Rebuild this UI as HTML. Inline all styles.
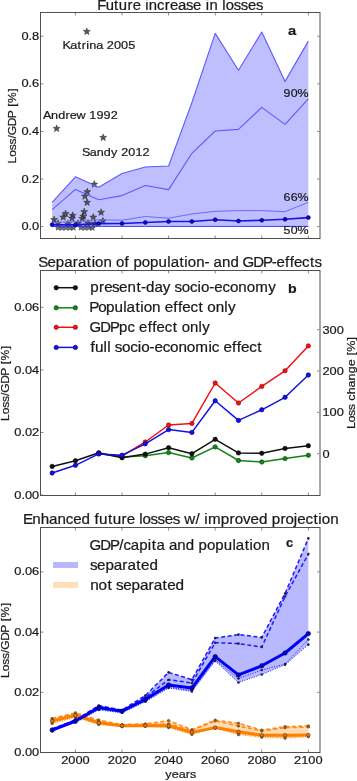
<!DOCTYPE html>
<html><head><meta charset="utf-8"><style>
html,body{margin:0;padding:0;background:#fff;width:357px;height:781px;overflow:hidden;}
svg{display:block;font-family:"Liberation Sans",sans-serif;filter:blur(0.35px);}
</style></head><body>
<svg width="357" height="781" viewBox="0 0 357 781" font-family="Liberation Sans, sans-serif">
<rect width="357" height="781" fill="#fff"/>
<polygon points="52.15,202.30 75.44,176.80 98.73,187.30 122.02,173.50 145.31,167.00 168.60,166.00 191.90,102.50 215.19,33.40 238.48,70.20 261.77,32.10 285.06,81.40 308.35,41.10 308.35,226.40 285.06,226.40 261.77,226.40 238.48,226.40 215.19,226.40 191.90,226.40 168.60,226.40 145.31,226.40 122.02,226.40 98.73,226.40 75.44,226.40 52.15,226.40" fill="#bfbfff" stroke="none" />
<polygon points="58.00,224.40 58.79,226.51 61.04,226.61 59.28,228.02 59.88,230.19 58.00,228.94 56.12,230.19 56.72,228.02 54.96,226.61 57.21,226.51" fill="#555555" fill-opacity="0.85" stroke="#262626" stroke-width="0.5" stroke-opacity="0.85"/>
<polygon points="62.00,224.70 62.79,226.81 65.04,226.91 63.28,228.32 63.88,230.49 62.00,229.24 60.12,230.49 60.72,228.32 58.96,226.91 61.21,226.81" fill="#555555" fill-opacity="0.85" stroke="#262626" stroke-width="0.5" stroke-opacity="0.85"/>
<polygon points="66.00,224.40 66.79,226.51 69.04,226.61 67.28,228.02 67.88,230.19 66.00,228.94 64.12,230.19 64.72,228.02 62.96,226.61 65.21,226.51" fill="#555555" fill-opacity="0.85" stroke="#262626" stroke-width="0.5" stroke-opacity="0.85"/>
<polygon points="70.00,224.70 70.79,226.81 73.04,226.91 71.28,228.32 71.88,230.49 70.00,229.24 68.12,230.49 68.72,228.32 66.96,226.91 69.21,226.81" fill="#555555" fill-opacity="0.85" stroke="#262626" stroke-width="0.5" stroke-opacity="0.85"/>
<polygon points="73.50,224.40 74.29,226.51 76.54,226.61 74.78,228.02 75.38,230.19 73.50,228.94 71.62,230.19 72.22,228.02 70.46,226.61 72.71,226.51" fill="#555555" fill-opacity="0.85" stroke="#262626" stroke-width="0.5" stroke-opacity="0.85"/>
<polygon points="81.00,224.40 81.79,226.51 84.04,226.61 82.28,228.02 82.88,230.19 81.00,228.94 79.12,230.19 79.72,228.02 77.96,226.61 80.21,226.51" fill="#555555" fill-opacity="0.85" stroke="#262626" stroke-width="0.5" stroke-opacity="0.85"/>
<polygon points="85.00,224.70 85.79,226.81 88.04,226.91 86.28,228.32 86.88,230.49 85.00,229.24 83.12,230.49 83.72,228.32 81.96,226.91 84.21,226.81" fill="#555555" fill-opacity="0.85" stroke="#262626" stroke-width="0.5" stroke-opacity="0.85"/>
<polygon points="89.00,224.40 89.79,226.51 92.04,226.61 90.28,228.02 90.88,230.19 89.00,228.94 87.12,230.19 87.72,228.02 85.96,226.61 88.21,226.51" fill="#555555" fill-opacity="0.85" stroke="#262626" stroke-width="0.5" stroke-opacity="0.85"/>
<polygon points="92.50,224.70 93.29,226.81 95.54,226.91 93.78,228.32 94.38,230.49 92.50,229.24 90.62,230.49 91.22,228.32 89.46,226.91 91.71,226.81" fill="#555555" fill-opacity="0.85" stroke="#262626" stroke-width="0.5" stroke-opacity="0.85"/>
<polygon points="86.80,27.90 87.71,30.34 90.32,30.46 88.28,32.08 88.97,34.59 86.80,33.15 84.63,34.59 85.32,32.08 83.28,30.46 85.89,30.34" fill="#4a4a4a" fill-opacity="0.92" stroke="#262626" stroke-width="0.5" stroke-opacity="0.92"/>
<polygon points="56.60,124.90 57.51,127.34 60.12,127.46 58.08,129.08 58.77,131.59 56.60,130.15 54.43,131.59 55.12,129.08 53.08,127.46 55.69,127.34" fill="#4a4a4a" fill-opacity="0.92" stroke="#262626" stroke-width="0.5" stroke-opacity="0.92"/>
<polygon points="103.20,133.90 104.11,136.34 106.72,136.46 104.68,138.08 105.37,140.59 103.20,139.15 101.03,140.59 101.72,138.08 99.68,136.46 102.29,136.34" fill="#4a4a4a" fill-opacity="0.92" stroke="#262626" stroke-width="0.5" stroke-opacity="0.92"/>
<polygon points="94.30,180.60 95.21,183.04 97.82,183.16 95.78,184.78 96.47,187.29 94.30,185.85 92.13,187.29 92.82,184.78 90.78,183.16 93.39,183.04" fill="#444444" fill-opacity="0.9" stroke="#262626" stroke-width="0.5" stroke-opacity="0.9"/>
<polygon points="87.30,188.10 88.21,190.54 90.82,190.66 88.78,192.28 89.47,194.79 87.30,193.35 85.13,194.79 85.82,192.28 83.78,190.66 86.39,190.54" fill="#444444" fill-opacity="0.9" stroke="#262626" stroke-width="0.5" stroke-opacity="0.9"/>
<polygon points="84.90,192.60 85.81,195.04 88.42,195.16 86.38,196.78 87.07,199.29 84.90,197.85 82.73,199.29 83.42,196.78 81.38,195.16 83.99,195.04" fill="#444444" fill-opacity="0.9" stroke="#262626" stroke-width="0.5" stroke-opacity="0.9"/>
<polygon points="87.10,198.80 88.01,201.24 90.62,201.36 88.58,202.98 89.27,205.49 87.10,204.05 84.93,205.49 85.62,202.98 83.58,201.36 86.19,201.24" fill="#444444" fill-opacity="0.9" stroke="#262626" stroke-width="0.5" stroke-opacity="0.9"/>
<polygon points="84.20,208.10 85.11,210.54 87.72,210.66 85.68,212.28 86.37,214.79 84.20,213.35 82.03,214.79 82.72,212.28 80.68,210.66 83.29,210.54" fill="#444444" fill-opacity="0.9" stroke="#262626" stroke-width="0.5" stroke-opacity="0.9"/>
<polygon points="83.30,212.70 84.21,215.14 86.82,215.26 84.78,216.88 85.47,219.39 83.30,217.95 81.13,219.39 81.82,216.88 79.78,215.26 82.39,215.14" fill="#444444" fill-opacity="0.9" stroke="#262626" stroke-width="0.5" stroke-opacity="0.9"/>
<polygon points="82.30,214.90 83.21,217.34 85.82,217.46 83.78,219.08 84.47,221.59 82.30,220.15 80.13,221.59 80.82,219.08 78.78,217.46 81.39,217.34" fill="#444444" fill-opacity="0.9" stroke="#262626" stroke-width="0.5" stroke-opacity="0.9"/>
<polygon points="93.30,213.60 94.21,216.04 96.82,216.16 94.78,217.78 95.47,220.29 93.30,218.85 91.13,220.29 91.82,217.78 89.78,216.16 92.39,216.04" fill="#444444" fill-opacity="0.9" stroke="#262626" stroke-width="0.5" stroke-opacity="0.9"/>
<polygon points="101.10,208.70 102.01,211.14 104.62,211.26 102.58,212.88 103.27,215.39 101.10,213.95 98.93,215.39 99.62,212.88 97.58,211.26 100.19,211.14" fill="#444444" fill-opacity="0.9" stroke="#262626" stroke-width="0.5" stroke-opacity="0.9"/>
<polygon points="102.90,217.30 103.81,219.74 106.42,219.86 104.38,221.48 105.07,223.99 102.90,222.55 100.73,223.99 101.42,221.48 99.38,219.86 101.99,219.74" fill="#444444" fill-opacity="0.9" stroke="#262626" stroke-width="0.5" stroke-opacity="0.9"/>
<polygon points="54.10,216.00 55.01,218.44 57.62,218.56 55.58,220.18 56.27,222.69 54.10,221.25 51.93,222.69 52.62,220.18 50.58,218.56 53.19,218.44" fill="#444444" fill-opacity="0.9" stroke="#262626" stroke-width="0.5" stroke-opacity="0.9"/>
<polygon points="65.60,210.00 66.51,212.44 69.12,212.56 67.08,214.18 67.77,216.69 65.60,215.25 63.43,216.69 64.12,214.18 62.08,212.56 64.69,212.44" fill="#444444" fill-opacity="0.9" stroke="#262626" stroke-width="0.5" stroke-opacity="0.9"/>
<polygon points="63.20,213.60 64.11,216.04 66.72,216.16 64.68,217.78 65.37,220.29 63.20,218.85 61.03,220.29 61.72,217.78 59.68,216.16 62.29,216.04" fill="#444444" fill-opacity="0.9" stroke="#262626" stroke-width="0.5" stroke-opacity="0.9"/>
<polygon points="72.70,211.80 73.61,214.24 76.22,214.36 74.18,215.98 74.87,218.49 72.70,217.05 70.53,218.49 71.22,215.98 69.18,214.36 71.79,214.24" fill="#444444" fill-opacity="0.9" stroke="#262626" stroke-width="0.5" stroke-opacity="0.9"/>
<polygon points="72.00,214.50 72.91,216.94 75.52,217.06 73.48,218.68 74.17,221.19 72.00,219.75 69.83,221.19 70.52,218.68 68.48,217.06 71.09,216.94" fill="#444444" fill-opacity="0.9" stroke="#262626" stroke-width="0.5" stroke-opacity="0.9"/>
<polygon points="58.00,219.80 58.91,222.24 61.52,222.36 59.48,223.98 60.17,226.49 58.00,225.05 55.83,226.49 56.52,223.98 54.48,222.36 57.09,222.24" fill="#444444" fill-opacity="0.9" stroke="#262626" stroke-width="0.5" stroke-opacity="0.9"/>
<polygon points="68.00,220.10 68.91,222.54 71.52,222.66 69.48,224.28 70.17,226.79 68.00,225.35 65.83,226.79 66.52,224.28 64.48,222.66 67.09,222.54" fill="#444444" fill-opacity="0.9" stroke="#262626" stroke-width="0.5" stroke-opacity="0.9"/>
<polygon points="78.00,219.80 78.91,222.24 81.52,222.36 79.48,223.98 80.17,226.49 78.00,225.05 75.83,226.49 76.52,223.98 74.48,222.36 77.09,222.24" fill="#444444" fill-opacity="0.9" stroke="#262626" stroke-width="0.5" stroke-opacity="0.9"/>
<polygon points="88.00,219.50 88.91,221.94 91.52,222.06 89.48,223.68 90.17,226.19 88.00,224.75 85.83,226.19 86.52,223.68 84.48,222.06 87.09,221.94" fill="#444444" fill-opacity="0.9" stroke="#262626" stroke-width="0.5" stroke-opacity="0.9"/>
<polygon points="95.00,219.80 95.91,222.24 98.52,222.36 96.48,223.98 97.17,226.49 95.00,225.05 92.83,226.49 93.52,223.98 91.48,222.36 94.09,222.24" fill="#444444" fill-opacity="0.9" stroke="#262626" stroke-width="0.5" stroke-opacity="0.9"/>
<polyline points="52.15,202.30 75.44,176.80 98.73,187.30 122.02,173.50 145.31,167.00 168.60,166.00 191.90,102.50 215.19,33.40 238.48,70.20 261.77,32.10 285.06,81.40 308.35,41.10" fill="none" stroke="#5b5bff" stroke-width="1.1" stroke-linejoin="round" />
<polyline points="52.15,209.60 75.44,189.40 98.73,199.70 122.02,195.60 145.31,185.50 168.60,189.60 191.90,153.30 215.19,131.00 238.48,129.40 261.77,107.40 285.06,124.40 308.35,98.90" fill="none" stroke="#5b5bff" stroke-width="1.1" stroke-linejoin="round" />
<polyline points="52.15,222.60 75.44,221.60 98.73,219.80 122.02,220.20 145.31,216.50 168.60,218.20 191.90,214.00 215.19,211.30 238.48,210.60 261.77,210.60 285.06,211.70 308.35,202.30" fill="none" stroke="#6b6bff" stroke-width="1.0" stroke-linejoin="round" />
<polyline points="52.15,226.40 75.44,226.40 98.73,226.40 122.02,226.40 145.31,226.40 168.60,226.40 191.90,226.40 215.19,226.40 238.48,226.40 261.77,226.40 285.06,226.40 308.35,226.40" fill="none" stroke="#3a3aff" stroke-width="1.0" stroke-linejoin="round" />
<polyline points="52.15,224.70 75.44,224.90 98.73,223.60 122.02,223.50 145.31,222.50 168.60,221.50 191.90,221.50 215.19,219.70 238.48,221.00 261.77,220.30 285.06,219.30 308.35,217.60" fill="none" stroke="#1414e6" stroke-width="1.6" stroke-linejoin="round" />
<circle cx="52.15" cy="224.70" r="2.0" fill="#0a0ad0" stroke="#000080" stroke-width="0.6"/>
<circle cx="75.44" cy="224.90" r="2.0" fill="#0a0ad0" stroke="#000080" stroke-width="0.6"/>
<circle cx="98.73" cy="223.60" r="2.0" fill="#0a0ad0" stroke="#000080" stroke-width="0.6"/>
<circle cx="122.02" cy="223.50" r="2.0" fill="#0a0ad0" stroke="#000080" stroke-width="0.6"/>
<circle cx="145.31" cy="222.50" r="2.0" fill="#0a0ad0" stroke="#000080" stroke-width="0.6"/>
<circle cx="168.60" cy="221.50" r="2.0" fill="#0a0ad0" stroke="#000080" stroke-width="0.6"/>
<circle cx="191.90" cy="221.50" r="2.0" fill="#0a0ad0" stroke="#000080" stroke-width="0.6"/>
<circle cx="215.19" cy="219.70" r="2.0" fill="#0a0ad0" stroke="#000080" stroke-width="0.6"/>
<circle cx="238.48" cy="221.00" r="2.0" fill="#0a0ad0" stroke="#000080" stroke-width="0.6"/>
<circle cx="261.77" cy="220.30" r="2.0" fill="#0a0ad0" stroke="#000080" stroke-width="0.6"/>
<circle cx="285.06" cy="219.30" r="2.0" fill="#0a0ad0" stroke="#000080" stroke-width="0.6"/>
<circle cx="308.35" cy="217.60" r="2.0" fill="#0a0ad0" stroke="#000080" stroke-width="0.6"/>
<text x="-0.53 6.72 13.41 17.26 21.50 24.27 30.75 37.24 40.55 47.17 53.79 60.41" y="0" font-size="11.82" fill="#1a1a1a" stroke="#1a1a1a" stroke-width="0.22" transform="translate(63.10 48.70) scale(1.0767 1)">Katrina 2005</text>
<text x="-0.35 7.21 13.87 20.67 24.74 31.04 39.62 42.98 49.66 56.33 63.01" y="0" font-size="11.82" fill="#1a1a1a" stroke="#1a1a1a" stroke-width="0.22" transform="translate(43.40 119.20) scale(1.0677 1)">Andrew 1992</text>
<text x="-0.59 6.66 13.24 19.94 26.75 32.87 36.26 42.98 49.70 56.42" y="0" font-size="11.82" fill="#1a1a1a" stroke="#1a1a1a" stroke-width="0.22" transform="translate(82.70 155.50) scale(1.0604 1)">Sandy 2012</text>
<text x="-23.55 -16.78 -10.31" y="0" font-size="11.82" fill="#1a1a1a" stroke="#1a1a1a" stroke-width="0.22" transform="translate(308.40 97.10) scale(1.0527 1)">90%</text>
<text x="-23.55 -16.78 -10.31" y="0" font-size="11.82" fill="#1a1a1a" stroke="#1a1a1a" stroke-width="0.22" transform="translate(308.30 200.50) scale(1.0527 1)">66%</text>
<text x="-23.55 -16.78 -10.31" y="0" font-size="11.82" fill="#1a1a1a" stroke="#1a1a1a" stroke-width="0.22" transform="translate(308.30 233.90) scale(1.0527 1)">50%</text>
<text x="-3.55" y="0" font-size="12.77" fill="#1a1a1a" stroke="#1a1a1a" stroke-width="0.22" font-weight="bold" transform="translate(292.00 34.90) scale(1.1503 1)">a</text>
<line x1="75.44" y1="238.00" x2="75.44" y2="235.50" stroke="#8a8a8a" stroke-width="1"/>
<line x1="75.44" y1="13.00" x2="75.44" y2="15.50" stroke="#8a8a8a" stroke-width="1"/>
<line x1="122.02" y1="238.00" x2="122.02" y2="235.50" stroke="#8a8a8a" stroke-width="1"/>
<line x1="122.02" y1="13.00" x2="122.02" y2="15.50" stroke="#8a8a8a" stroke-width="1"/>
<line x1="168.60" y1="238.00" x2="168.60" y2="235.50" stroke="#8a8a8a" stroke-width="1"/>
<line x1="168.60" y1="13.00" x2="168.60" y2="15.50" stroke="#8a8a8a" stroke-width="1"/>
<line x1="215.19" y1="238.00" x2="215.19" y2="235.50" stroke="#8a8a8a" stroke-width="1"/>
<line x1="215.19" y1="13.00" x2="215.19" y2="15.50" stroke="#8a8a8a" stroke-width="1"/>
<line x1="261.77" y1="238.00" x2="261.77" y2="235.50" stroke="#8a8a8a" stroke-width="1"/>
<line x1="261.77" y1="13.00" x2="261.77" y2="15.50" stroke="#8a8a8a" stroke-width="1"/>
<line x1="308.35" y1="238.00" x2="308.35" y2="235.50" stroke="#8a8a8a" stroke-width="1"/>
<line x1="308.35" y1="13.00" x2="308.35" y2="15.50" stroke="#8a8a8a" stroke-width="1"/>
<line x1="41.00" y1="226.60" x2="43.50" y2="226.60" stroke="#8a8a8a" stroke-width="1"/>
<line x1="319.50" y1="226.60" x2="317.00" y2="226.60" stroke="#8a8a8a" stroke-width="1"/>
<line x1="41.00" y1="179.02" x2="43.50" y2="179.02" stroke="#8a8a8a" stroke-width="1"/>
<line x1="319.50" y1="179.02" x2="317.00" y2="179.02" stroke="#8a8a8a" stroke-width="1"/>
<line x1="41.00" y1="131.44" x2="43.50" y2="131.44" stroke="#8a8a8a" stroke-width="1"/>
<line x1="319.50" y1="131.44" x2="317.00" y2="131.44" stroke="#8a8a8a" stroke-width="1"/>
<line x1="41.00" y1="83.86" x2="43.50" y2="83.86" stroke="#8a8a8a" stroke-width="1"/>
<line x1="319.50" y1="83.86" x2="317.00" y2="83.86" stroke="#8a8a8a" stroke-width="1"/>
<line x1="41.00" y1="36.28" x2="43.50" y2="36.28" stroke="#8a8a8a" stroke-width="1"/>
<line x1="319.50" y1="36.28" x2="317.00" y2="36.28" stroke="#8a8a8a" stroke-width="1"/>
<rect x="40.50" y="12.50" width="279.50" height="226.00" fill="none" stroke="#505050" stroke-width="1"/>
<text x="-16.42 -9.85 -6.57" y="0" font-size="11.82" fill="#1a1a1a" stroke="#1a1a1a" stroke-width="0.22" transform="translate(39.20 230.20) scale(1.0845 1)">0.0</text>
<text x="-16.42 -9.85 -6.57" y="0" font-size="11.82" fill="#1a1a1a" stroke="#1a1a1a" stroke-width="0.22" transform="translate(39.20 182.62) scale(1.0845 1)">0.2</text>
<text x="-16.42 -9.85 -6.57" y="0" font-size="11.82" fill="#1a1a1a" stroke="#1a1a1a" stroke-width="0.22" transform="translate(39.20 135.04) scale(1.0845 1)">0.4</text>
<text x="-16.42 -9.85 -6.57" y="0" font-size="11.82" fill="#1a1a1a" stroke="#1a1a1a" stroke-width="0.22" transform="translate(39.20 87.46) scale(1.0845 1)">0.6</text>
<text x="-16.42 -9.85 -6.57" y="0" font-size="11.82" fill="#1a1a1a" stroke="#1a1a1a" stroke-width="0.22" transform="translate(39.20 39.88) scale(1.0845 1)">0.8</text>
<text x="-37.21 -30.78 -24.42 -18.69 -12.66 -9.50 -0.67 7.21 14.57 18.46 22.22 33.21" y="0" font-size="11.82" fill="#1a1a1a" stroke="#1a1a1a" stroke-width="0.22" transform="translate(15.60 125.50) rotate(-90) scale(1.0182 1)">Loss/GDP [%]</text>
<text x="-79.22 -71.13 -63.33 -58.76 -50.53 -45.56 -37.93 -33.74 -30.30 -22.36 -15.06 -10.09 -2.55 5.07 11.91 19.82 24.01 27.46 35.49 39.68 42.99 50.60 57.24 64.08 71.72" y="0" font-size="14.14" fill="#1a1a1a" stroke="#1a1a1a" stroke-width="0.22" transform="translate(180.60 10.20) scale(1.0516 1)">Future increase in losses</text>
<polyline points="98.73,453.50 122.02,457.00 145.31,455.70 168.60,452.60 191.90,458.00 215.19,446.90 238.48,460.50 261.77,462.00 285.06,458.60 308.35,455.20" fill="none" stroke="#148414" stroke-width="1.5" stroke-linejoin="round" />
<circle cx="98.73" cy="453.50" r="2.2" fill="#148414" stroke="#0a4a0a" stroke-width="0.6"/>
<circle cx="122.02" cy="457.00" r="2.2" fill="#148414" stroke="#0a4a0a" stroke-width="0.6"/>
<circle cx="145.31" cy="455.70" r="2.2" fill="#148414" stroke="#0a4a0a" stroke-width="0.6"/>
<circle cx="168.60" cy="452.60" r="2.2" fill="#148414" stroke="#0a4a0a" stroke-width="0.6"/>
<circle cx="191.90" cy="458.00" r="2.2" fill="#148414" stroke="#0a4a0a" stroke-width="0.6"/>
<circle cx="215.19" cy="446.90" r="2.2" fill="#148414" stroke="#0a4a0a" stroke-width="0.6"/>
<circle cx="238.48" cy="460.50" r="2.2" fill="#148414" stroke="#0a4a0a" stroke-width="0.6"/>
<circle cx="261.77" cy="462.00" r="2.2" fill="#148414" stroke="#0a4a0a" stroke-width="0.6"/>
<circle cx="285.06" cy="458.60" r="2.2" fill="#148414" stroke="#0a4a0a" stroke-width="0.6"/>
<circle cx="308.35" cy="455.20" r="2.2" fill="#148414" stroke="#0a4a0a" stroke-width="0.6"/>
<polyline points="98.73,453.70 122.02,456.10 145.31,442.00 168.60,425.00 191.90,423.40 215.19,383.00 238.48,403.00 261.77,386.40 285.06,370.80 308.35,345.90" fill="none" stroke="#f41010" stroke-width="1.5" stroke-linejoin="round" />
<circle cx="98.73" cy="453.70" r="2.2" fill="#f41010" stroke="#8a0a0a" stroke-width="0.6"/>
<circle cx="122.02" cy="456.10" r="2.2" fill="#f41010" stroke="#8a0a0a" stroke-width="0.6"/>
<circle cx="145.31" cy="442.00" r="2.2" fill="#f41010" stroke="#8a0a0a" stroke-width="0.6"/>
<circle cx="168.60" cy="425.00" r="2.2" fill="#f41010" stroke="#8a0a0a" stroke-width="0.6"/>
<circle cx="191.90" cy="423.40" r="2.2" fill="#f41010" stroke="#8a0a0a" stroke-width="0.6"/>
<circle cx="215.19" cy="383.00" r="2.2" fill="#f41010" stroke="#8a0a0a" stroke-width="0.6"/>
<circle cx="238.48" cy="403.00" r="2.2" fill="#f41010" stroke="#8a0a0a" stroke-width="0.6"/>
<circle cx="261.77" cy="386.40" r="2.2" fill="#f41010" stroke="#8a0a0a" stroke-width="0.6"/>
<circle cx="285.06" cy="370.80" r="2.2" fill="#f41010" stroke="#8a0a0a" stroke-width="0.6"/>
<circle cx="308.35" cy="345.90" r="2.2" fill="#f41010" stroke="#8a0a0a" stroke-width="0.6"/>
<polyline points="52.15,466.40 75.44,460.80 98.73,452.80 122.02,457.80 145.31,454.10 168.60,447.70 191.90,453.70 215.19,439.30 238.48,452.90 261.77,453.30 285.06,448.40 308.35,445.70" fill="none" stroke="#101010" stroke-width="1.5" stroke-linejoin="round" />
<circle cx="52.15" cy="466.40" r="2.2" fill="#101010" stroke="#000000" stroke-width="0.6"/>
<circle cx="75.44" cy="460.80" r="2.2" fill="#101010" stroke="#000000" stroke-width="0.6"/>
<circle cx="98.73" cy="452.80" r="2.2" fill="#101010" stroke="#000000" stroke-width="0.6"/>
<circle cx="122.02" cy="457.80" r="2.2" fill="#101010" stroke="#000000" stroke-width="0.6"/>
<circle cx="145.31" cy="454.10" r="2.2" fill="#101010" stroke="#000000" stroke-width="0.6"/>
<circle cx="168.60" cy="447.70" r="2.2" fill="#101010" stroke="#000000" stroke-width="0.6"/>
<circle cx="191.90" cy="453.70" r="2.2" fill="#101010" stroke="#000000" stroke-width="0.6"/>
<circle cx="215.19" cy="439.30" r="2.2" fill="#101010" stroke="#000000" stroke-width="0.6"/>
<circle cx="238.48" cy="452.90" r="2.2" fill="#101010" stroke="#000000" stroke-width="0.6"/>
<circle cx="261.77" cy="453.30" r="2.2" fill="#101010" stroke="#000000" stroke-width="0.6"/>
<circle cx="285.06" cy="448.40" r="2.2" fill="#101010" stroke="#000000" stroke-width="0.6"/>
<circle cx="308.35" cy="445.70" r="2.2" fill="#101010" stroke="#000000" stroke-width="0.6"/>
<polyline points="52.15,473.00 75.44,465.30 98.73,453.90 122.02,455.20 145.31,443.80 168.60,429.60 191.90,432.40 215.19,400.70 238.48,420.40 261.77,409.80 285.06,397.30 308.35,375.00" fill="none" stroke="#1010e8" stroke-width="1.5" stroke-linejoin="round" />
<circle cx="52.15" cy="473.00" r="2.2" fill="#1010e8" stroke="#000080" stroke-width="0.6"/>
<circle cx="75.44" cy="465.30" r="2.2" fill="#1010e8" stroke="#000080" stroke-width="0.6"/>
<circle cx="98.73" cy="453.90" r="2.2" fill="#1010e8" stroke="#000080" stroke-width="0.6"/>
<circle cx="122.02" cy="455.20" r="2.2" fill="#1010e8" stroke="#000080" stroke-width="0.6"/>
<circle cx="145.31" cy="443.80" r="2.2" fill="#1010e8" stroke="#000080" stroke-width="0.6"/>
<circle cx="168.60" cy="429.60" r="2.2" fill="#1010e8" stroke="#000080" stroke-width="0.6"/>
<circle cx="191.90" cy="432.40" r="2.2" fill="#1010e8" stroke="#000080" stroke-width="0.6"/>
<circle cx="215.19" cy="400.70" r="2.2" fill="#1010e8" stroke="#000080" stroke-width="0.6"/>
<circle cx="238.48" cy="420.40" r="2.2" fill="#1010e8" stroke="#000080" stroke-width="0.6"/>
<circle cx="261.77" cy="409.80" r="2.2" fill="#1010e8" stroke="#000080" stroke-width="0.6"/>
<circle cx="285.06" cy="397.30" r="2.2" fill="#1010e8" stroke="#000080" stroke-width="0.6"/>
<circle cx="308.35" cy="375.00" r="2.2" fill="#1010e8" stroke="#000080" stroke-width="0.6"/>
<polyline points="56.20,287.70 75.40,287.70" fill="none" stroke="#101010" stroke-width="1.5" stroke-linejoin="round" />
<circle cx="56.20" cy="287.70" r="2.2" fill="#101010" stroke="#000000" stroke-width="0.6"/>
<circle cx="75.40" cy="287.70" r="2.2" fill="#101010" stroke="#000000" stroke-width="0.6"/>
<text x="0.05 8.18 13.03 20.27 26.99 34.81 43.20 47.53 52.19 60.01 67.95 75.22 78.90 85.60 93.28 100.42 103.64 111.31 116.08 123.77 130.65 138.46 146.26 154.24 166.40" y="0" font-size="14.14" fill="#1a1a1a" stroke="#1a1a1a" stroke-width="0.22" transform="translate(90.20 292.30) scale(1.0696 1)">present-day socio-economy</text>
<polyline points="56.20,307.80 75.40,307.80" fill="none" stroke="#148414" stroke-width="1.5" stroke-linejoin="round" />
<circle cx="56.20" cy="307.80" r="2.2" fill="#148414" stroke="#0a4a0a" stroke-width="0.6"/>
<circle cx="75.40" cy="307.80" r="2.2" fill="#148414" stroke="#0a4a0a" stroke-width="0.6"/>
<text x="-0.97 7.35 14.65 22.53 30.55 33.71 41.92 46.47 49.63 57.37 65.24 69.07 77.04 81.41 85.26 92.89 100.31 104.71 108.52 116.25 124.27 127.70" y="0" font-size="14.14" fill="#1a1a1a" stroke="#1a1a1a" stroke-width="0.22" transform="translate(90.20 311.90) scale(1.0793 1)">Population effect only</text>
<polyline points="56.20,327.30 75.40,327.30" fill="none" stroke="#f41010" stroke-width="1.5" stroke-linejoin="round" />
<circle cx="56.20" cy="327.30" r="2.2" fill="#f41010" stroke="#8a0a0a" stroke-width="0.6"/>
<circle cx="75.40" cy="327.30" r="2.2" fill="#f41010" stroke="#8a0a0a" stroke-width="0.6"/>
<text x="-0.57 9.63 18.75 27.40 35.32 42.40 46.37 54.48 58.95 62.94 70.74 78.30 82.81 86.75 94.66 102.81 106.38" y="0" font-size="14.14" fill="#1a1a1a" stroke="#1a1a1a" stroke-width="0.22" transform="translate(90.20 332.00) scale(1.0545 1)">GDPpc effect only</text>
<polyline points="56.20,347.40 75.40,347.40" fill="none" stroke="#1010e8" stroke-width="1.5" stroke-linejoin="round" />
<circle cx="56.20" cy="347.40" r="2.2" fill="#1010e8" stroke="#000080" stroke-width="0.6"/>
<circle cx="75.40" cy="347.40" r="2.2" fill="#1010e8" stroke="#000080" stroke-width="0.6"/>
<text x="0.21 4.34 12.34 15.77 19.06 22.68 29.28 36.86 43.94 47.08 54.67 59.36 66.96 73.75 81.45 89.15 97.00 109.05 112.21 119.14 122.94 130.89 135.24 139.07 146.67 154.06" y="0" font-size="14.14" fill="#1a1a1a" stroke="#1a1a1a" stroke-width="0.22" transform="translate(90.20 352.10) scale(1.0837 1)">full socio-economic effect</text>
<text x="-3.90" y="0" font-size="12.77" fill="#1a1a1a" stroke="#1a1a1a" stroke-width="0.22" font-weight="bold" transform="translate(292.30 292.70) scale(1.1108 1)">b</text>
<line x1="75.44" y1="495.00" x2="75.44" y2="492.50" stroke="#8a8a8a" stroke-width="1"/>
<line x1="75.44" y1="271.00" x2="75.44" y2="273.50" stroke="#8a8a8a" stroke-width="1"/>
<line x1="122.02" y1="495.00" x2="122.02" y2="492.50" stroke="#8a8a8a" stroke-width="1"/>
<line x1="122.02" y1="271.00" x2="122.02" y2="273.50" stroke="#8a8a8a" stroke-width="1"/>
<line x1="168.60" y1="495.00" x2="168.60" y2="492.50" stroke="#8a8a8a" stroke-width="1"/>
<line x1="168.60" y1="271.00" x2="168.60" y2="273.50" stroke="#8a8a8a" stroke-width="1"/>
<line x1="215.19" y1="495.00" x2="215.19" y2="492.50" stroke="#8a8a8a" stroke-width="1"/>
<line x1="215.19" y1="271.00" x2="215.19" y2="273.50" stroke="#8a8a8a" stroke-width="1"/>
<line x1="261.77" y1="495.00" x2="261.77" y2="492.50" stroke="#8a8a8a" stroke-width="1"/>
<line x1="261.77" y1="271.00" x2="261.77" y2="273.50" stroke="#8a8a8a" stroke-width="1"/>
<line x1="308.35" y1="495.00" x2="308.35" y2="492.50" stroke="#8a8a8a" stroke-width="1"/>
<line x1="308.35" y1="271.00" x2="308.35" y2="273.50" stroke="#8a8a8a" stroke-width="1"/>
<line x1="41.00" y1="495.00" x2="43.50" y2="495.00" stroke="#8a8a8a" stroke-width="1"/>
<line x1="41.00" y1="432.46" x2="43.50" y2="432.46" stroke="#8a8a8a" stroke-width="1"/>
<line x1="41.00" y1="369.92" x2="43.50" y2="369.92" stroke="#8a8a8a" stroke-width="1"/>
<line x1="41.00" y1="307.38" x2="43.50" y2="307.38" stroke="#8a8a8a" stroke-width="1"/>
<rect x="40.50" y="270.50" width="279.50" height="225.00" fill="none" stroke="#505050" stroke-width="1"/>
<line x1="319.50" y1="453.70" x2="317.00" y2="453.70" stroke="#8a8a8a" stroke-width="1"/>
<text x="-0.00" y="0" font-size="11.82" fill="#1a1a1a" stroke="#1a1a1a" stroke-width="0.22" transform="translate(322.50 457.70) scale(1.0845 1)">0</text>
<line x1="319.50" y1="412.37" x2="317.00" y2="412.37" stroke="#8a8a8a" stroke-width="1"/>
<text x="0.00 6.57 13.14" y="0" font-size="11.82" fill="#1a1a1a" stroke="#1a1a1a" stroke-width="0.22" transform="translate(322.50 416.37) scale(1.0845 1)">100</text>
<line x1="319.50" y1="371.04" x2="317.00" y2="371.04" stroke="#8a8a8a" stroke-width="1"/>
<text x="0.00 6.57 13.14" y="0" font-size="11.82" fill="#1a1a1a" stroke="#1a1a1a" stroke-width="0.22" transform="translate(322.50 375.04) scale(1.0845 1)">200</text>
<line x1="319.50" y1="329.71" x2="317.00" y2="329.71" stroke="#8a8a8a" stroke-width="1"/>
<text x="0.00 6.57 13.14" y="0" font-size="11.82" fill="#1a1a1a" stroke="#1a1a1a" stroke-width="0.22" transform="translate(322.50 333.71) scale(1.0845 1)">300</text>
<text x="-22.99 -16.42 -13.14 -6.57" y="0" font-size="11.82" fill="#1a1a1a" stroke="#1a1a1a" stroke-width="0.22" transform="translate(39.20 498.60) scale(1.0845 1)">0.00</text>
<text x="-22.99 -16.42 -13.14 -6.57" y="0" font-size="11.82" fill="#1a1a1a" stroke="#1a1a1a" stroke-width="0.22" transform="translate(39.20 436.06) scale(1.0845 1)">0.02</text>
<text x="-22.99 -16.42 -13.14 -6.57" y="0" font-size="11.82" fill="#1a1a1a" stroke="#1a1a1a" stroke-width="0.22" transform="translate(39.20 373.52) scale(1.0845 1)">0.04</text>
<text x="-22.99 -16.42 -13.14 -6.57" y="0" font-size="11.82" fill="#1a1a1a" stroke="#1a1a1a" stroke-width="0.22" transform="translate(39.20 310.98) scale(1.0845 1)">0.06</text>
<text x="-37.21 -30.78 -24.42 -18.69 -12.66 -9.50 -0.67 7.21 14.57 18.46 22.22 33.21" y="0" font-size="11.82" fill="#1a1a1a" stroke="#1a1a1a" stroke-width="0.22" transform="translate(9.00 383.00) rotate(-90) scale(1.0182 1)">Loss/GDP [%]</text>
<text x="-44.01 -37.81 -31.66 -26.14 -20.38 -17.09 -11.15 -4.54 2.06 8.79 15.42 22.01 25.76 29.25 39.97" y="0" font-size="11.82" fill="#1a1a1a" stroke="#1a1a1a" stroke-width="0.22" transform="translate(354.60 382.60) rotate(-90) scale(1.0564 1)">Loss change [%]</text>
<text x="-133.78 -125.11 -117.23 -109.36 -101.33 -96.45 -88.15 -83.53 -80.28 -72.43 -64.46 -60.57 -52.52 -48.30 -44.26 -36.40 -28.54 -20.54 -12.43 -9.18 -0.88 3.74 6.99 14.84 22.69 27.36 31.26 39.12 47.12 55.09 58.45 68.58 77.63 86.06 90.36 98.43 102.87 106.81 114.55 122.06 126.25" y="0" font-size="14.14" fill="#1a1a1a" stroke="#1a1a1a" stroke-width="0.22" transform="translate(180.40 266.80) scale(1.0626 1)">Separation of population- and GDP-effects</text>
<polygon points="52.15,729.00 75.44,720.00 98.73,705.50 122.02,710.00 145.31,695.60 168.60,672.40 191.90,679.70 215.19,638.10 238.48,634.60 261.77,637.40 285.06,593.50 308.35,538.40 308.35,644.60 285.06,664.80 261.77,674.50 238.48,682.50 215.19,661.00 191.90,691.50 168.60,688.00 145.31,701.80 122.02,712.80 98.73,710.00 75.44,722.50 52.15,731.20" fill="#b9b9ff" stroke="none" />
<polygon points="52.15,718.50 75.44,712.80 98.73,720.00 122.02,724.50 145.31,723.90 168.60,720.60 191.90,729.70 215.19,720.10 238.48,723.30 261.77,730.10 285.06,726.60 308.35,725.90 308.35,736.70 285.06,738.20 261.77,737.20 238.48,734.70 215.19,728.20 191.90,734.50 168.60,727.60 145.31,726.40 122.02,726.80 98.73,724.50 75.44,717.50 52.15,723.50" fill="#ffdcb4" stroke="none" />
<polyline points="52.15,718.50 75.44,712.80 98.73,720.00 122.02,724.50 145.31,723.90 168.60,720.60 191.90,729.70 215.19,720.10 238.48,723.30 261.77,730.10 285.06,726.60 308.35,725.90" fill="none" stroke="#ff8c1a" stroke-width="1.5" stroke-linejoin="round" stroke-dasharray="4,2.5"/>
<polyline points="52.15,719.50 75.44,714.00 98.73,721.50 122.02,725.00 145.31,724.40 168.60,723.90 191.90,730.50 215.19,720.90 238.48,726.00 261.77,731.00 285.06,727.80 308.35,727.00" fill="none" stroke="#ff8c1a" stroke-width="1.5" stroke-linejoin="round" stroke-dasharray="4,2.5"/>
<polyline points="52.15,723.50 75.44,717.50 98.73,724.50 122.02,726.80 145.31,726.40 168.60,727.60 191.90,734.50 215.19,728.20 238.48,734.70 261.77,737.20 285.06,738.20 308.35,736.70" fill="none" stroke="#ff8c1a" stroke-width="1.0" stroke-linejoin="round" stroke-dasharray="1,1.5"/>
<polyline points="52.15,722.50 75.44,716.80 98.73,723.80 122.02,726.50 145.31,726.00 168.60,727.00 191.90,733.60 215.19,727.80 238.48,733.50 261.77,736.50 285.06,737.00 308.35,736.00" fill="none" stroke="#ff8c1a" stroke-width="1.0" stroke-linejoin="round" stroke-dasharray="1,1.5"/>
<polyline points="52.15,721.00 75.44,715.30 98.73,722.80 122.02,725.80 145.31,725.40 168.60,725.80 191.90,732.40 215.19,727.60 238.48,731.70 261.77,735.20 285.06,735.20 308.35,735.00" fill="none" stroke="#ff8000" stroke-width="3.0" stroke-linejoin="round" />
<circle cx="52.15" cy="718.50" r="1.2" fill="#b06a20" stroke="#5a3a1a" stroke-width="0.6"/>
<circle cx="75.44" cy="712.80" r="1.2" fill="#b06a20" stroke="#5a3a1a" stroke-width="0.6"/>
<circle cx="98.73" cy="720.00" r="1.2" fill="#b06a20" stroke="#5a3a1a" stroke-width="0.6"/>
<circle cx="122.02" cy="724.50" r="1.2" fill="#b06a20" stroke="#5a3a1a" stroke-width="0.6"/>
<circle cx="145.31" cy="723.90" r="1.2" fill="#b06a20" stroke="#5a3a1a" stroke-width="0.6"/>
<circle cx="168.60" cy="720.60" r="1.2" fill="#b06a20" stroke="#5a3a1a" stroke-width="0.6"/>
<circle cx="191.90" cy="729.70" r="1.2" fill="#b06a20" stroke="#5a3a1a" stroke-width="0.6"/>
<circle cx="215.19" cy="720.10" r="1.2" fill="#b06a20" stroke="#5a3a1a" stroke-width="0.6"/>
<circle cx="238.48" cy="723.30" r="1.2" fill="#b06a20" stroke="#5a3a1a" stroke-width="0.6"/>
<circle cx="261.77" cy="730.10" r="1.2" fill="#b06a20" stroke="#5a3a1a" stroke-width="0.6"/>
<circle cx="285.06" cy="726.60" r="1.2" fill="#b06a20" stroke="#5a3a1a" stroke-width="0.6"/>
<circle cx="308.35" cy="725.90" r="1.2" fill="#b06a20" stroke="#5a3a1a" stroke-width="0.6"/>
<circle cx="52.15" cy="719.50" r="1.2" fill="#b06a20" stroke="#5a3a1a" stroke-width="0.6"/>
<circle cx="75.44" cy="714.00" r="1.2" fill="#b06a20" stroke="#5a3a1a" stroke-width="0.6"/>
<circle cx="98.73" cy="721.50" r="1.2" fill="#b06a20" stroke="#5a3a1a" stroke-width="0.6"/>
<circle cx="122.02" cy="725.00" r="1.2" fill="#b06a20" stroke="#5a3a1a" stroke-width="0.6"/>
<circle cx="145.31" cy="724.40" r="1.2" fill="#b06a20" stroke="#5a3a1a" stroke-width="0.6"/>
<circle cx="168.60" cy="723.90" r="1.2" fill="#b06a20" stroke="#5a3a1a" stroke-width="0.6"/>
<circle cx="191.90" cy="730.50" r="1.2" fill="#b06a20" stroke="#5a3a1a" stroke-width="0.6"/>
<circle cx="215.19" cy="720.90" r="1.2" fill="#b06a20" stroke="#5a3a1a" stroke-width="0.6"/>
<circle cx="238.48" cy="726.00" r="1.2" fill="#b06a20" stroke="#5a3a1a" stroke-width="0.6"/>
<circle cx="261.77" cy="731.00" r="1.2" fill="#b06a20" stroke="#5a3a1a" stroke-width="0.6"/>
<circle cx="285.06" cy="727.80" r="1.2" fill="#b06a20" stroke="#5a3a1a" stroke-width="0.6"/>
<circle cx="308.35" cy="727.00" r="1.2" fill="#b06a20" stroke="#5a3a1a" stroke-width="0.6"/>
<circle cx="52.15" cy="723.50" r="1.2" fill="#b06a20" stroke="#5a3a1a" stroke-width="0.6"/>
<circle cx="75.44" cy="717.50" r="1.2" fill="#b06a20" stroke="#5a3a1a" stroke-width="0.6"/>
<circle cx="98.73" cy="724.50" r="1.2" fill="#b06a20" stroke="#5a3a1a" stroke-width="0.6"/>
<circle cx="122.02" cy="726.80" r="1.2" fill="#b06a20" stroke="#5a3a1a" stroke-width="0.6"/>
<circle cx="145.31" cy="726.40" r="1.2" fill="#b06a20" stroke="#5a3a1a" stroke-width="0.6"/>
<circle cx="168.60" cy="727.60" r="1.2" fill="#b06a20" stroke="#5a3a1a" stroke-width="0.6"/>
<circle cx="191.90" cy="734.50" r="1.2" fill="#b06a20" stroke="#5a3a1a" stroke-width="0.6"/>
<circle cx="215.19" cy="728.20" r="1.2" fill="#b06a20" stroke="#5a3a1a" stroke-width="0.6"/>
<circle cx="238.48" cy="734.70" r="1.2" fill="#b06a20" stroke="#5a3a1a" stroke-width="0.6"/>
<circle cx="261.77" cy="737.20" r="1.2" fill="#b06a20" stroke="#5a3a1a" stroke-width="0.6"/>
<circle cx="285.06" cy="738.20" r="1.2" fill="#b06a20" stroke="#5a3a1a" stroke-width="0.6"/>
<circle cx="308.35" cy="736.70" r="1.2" fill="#b06a20" stroke="#5a3a1a" stroke-width="0.6"/>
<circle cx="52.15" cy="722.50" r="1.2" fill="#b06a20" stroke="#5a3a1a" stroke-width="0.6"/>
<circle cx="75.44" cy="716.80" r="1.2" fill="#b06a20" stroke="#5a3a1a" stroke-width="0.6"/>
<circle cx="98.73" cy="723.80" r="1.2" fill="#b06a20" stroke="#5a3a1a" stroke-width="0.6"/>
<circle cx="122.02" cy="726.50" r="1.2" fill="#b06a20" stroke="#5a3a1a" stroke-width="0.6"/>
<circle cx="145.31" cy="726.00" r="1.2" fill="#b06a20" stroke="#5a3a1a" stroke-width="0.6"/>
<circle cx="168.60" cy="727.00" r="1.2" fill="#b06a20" stroke="#5a3a1a" stroke-width="0.6"/>
<circle cx="191.90" cy="733.60" r="1.2" fill="#b06a20" stroke="#5a3a1a" stroke-width="0.6"/>
<circle cx="215.19" cy="727.80" r="1.2" fill="#b06a20" stroke="#5a3a1a" stroke-width="0.6"/>
<circle cx="238.48" cy="733.50" r="1.2" fill="#b06a20" stroke="#5a3a1a" stroke-width="0.6"/>
<circle cx="261.77" cy="736.50" r="1.2" fill="#b06a20" stroke="#5a3a1a" stroke-width="0.6"/>
<circle cx="285.06" cy="737.00" r="1.2" fill="#b06a20" stroke="#5a3a1a" stroke-width="0.6"/>
<circle cx="308.35" cy="736.00" r="1.2" fill="#b06a20" stroke="#5a3a1a" stroke-width="0.6"/>
<circle cx="52.15" cy="721.00" r="1.8" fill="#e07810" stroke="#5a3a1a" stroke-width="0.6"/>
<circle cx="75.44" cy="715.30" r="1.8" fill="#e07810" stroke="#5a3a1a" stroke-width="0.6"/>
<circle cx="98.73" cy="722.80" r="1.8" fill="#e07810" stroke="#5a3a1a" stroke-width="0.6"/>
<circle cx="122.02" cy="725.80" r="1.8" fill="#e07810" stroke="#5a3a1a" stroke-width="0.6"/>
<circle cx="145.31" cy="725.40" r="1.8" fill="#e07810" stroke="#5a3a1a" stroke-width="0.6"/>
<circle cx="168.60" cy="725.80" r="1.8" fill="#e07810" stroke="#5a3a1a" stroke-width="0.6"/>
<circle cx="191.90" cy="732.40" r="1.8" fill="#e07810" stroke="#5a3a1a" stroke-width="0.6"/>
<circle cx="215.19" cy="727.60" r="1.8" fill="#e07810" stroke="#5a3a1a" stroke-width="0.6"/>
<circle cx="238.48" cy="731.70" r="1.8" fill="#e07810" stroke="#5a3a1a" stroke-width="0.6"/>
<circle cx="261.77" cy="735.20" r="1.8" fill="#e07810" stroke="#5a3a1a" stroke-width="0.6"/>
<circle cx="285.06" cy="735.20" r="1.8" fill="#e07810" stroke="#5a3a1a" stroke-width="0.6"/>
<circle cx="308.35" cy="735.00" r="1.8" fill="#e07810" stroke="#5a3a1a" stroke-width="0.6"/>
<polyline points="52.15,729.00 75.44,720.00 98.73,705.50 122.02,710.00 145.31,695.60 168.60,672.40 191.90,679.70 215.19,638.10 238.48,634.60 261.77,637.40 285.06,593.50 308.35,538.40" fill="none" stroke="#1a1aff" stroke-width="1.5" stroke-linejoin="round" stroke-dasharray="4,2.5"/>
<polyline points="52.15,729.50 75.44,720.50 98.73,706.50 122.02,710.50 145.31,697.50 168.60,679.70 191.90,683.00 215.19,642.70 238.48,643.60 261.77,647.00 285.06,596.50 308.35,554.10" fill="none" stroke="#1a1aff" stroke-width="1.5" stroke-linejoin="round" stroke-dasharray="4,2.5"/>
<polyline points="52.15,730.80 75.44,722.00 98.73,709.00 122.02,712.20 145.31,701.00 168.60,687.00 191.90,690.50 215.19,659.80 238.48,678.50 261.77,670.00 285.06,664.10 308.35,639.60" fill="none" stroke="#1a1aff" stroke-width="1.0" stroke-linejoin="round" stroke-dasharray="1,1.5"/>
<polyline points="52.15,731.20 75.44,722.50 98.73,710.00 122.02,712.80 145.31,701.80 168.60,688.00 191.90,691.50 215.19,661.00 238.48,682.50 261.77,674.50 285.06,664.80 308.35,644.60" fill="none" stroke="#1a1aff" stroke-width="1.0" stroke-linejoin="round" stroke-dasharray="1,1.5"/>
<polyline points="52.15,730.00 75.44,721.00 98.73,707.60 122.02,711.20 145.31,699.40 168.60,685.00 191.90,688.00 215.19,656.60 238.48,674.90 261.77,665.80 285.06,653.00 308.35,633.60" fill="none" stroke="#0000f5" stroke-width="3.0" stroke-linejoin="round" />
<circle cx="52.15" cy="729.00" r="1.3" fill="#202050"/>
<circle cx="75.44" cy="720.00" r="1.3" fill="#202050"/>
<circle cx="98.73" cy="705.50" r="1.3" fill="#202050"/>
<circle cx="122.02" cy="710.00" r="1.3" fill="#202050"/>
<circle cx="145.31" cy="695.60" r="1.3" fill="#202050"/>
<circle cx="168.60" cy="672.40" r="1.3" fill="#202050"/>
<circle cx="191.90" cy="679.70" r="1.3" fill="#202050"/>
<circle cx="215.19" cy="638.10" r="1.3" fill="#202050"/>
<circle cx="238.48" cy="634.60" r="1.3" fill="#202050"/>
<circle cx="261.77" cy="637.40" r="1.3" fill="#202050"/>
<circle cx="285.06" cy="593.50" r="1.3" fill="#202050"/>
<circle cx="308.35" cy="538.40" r="1.3" fill="#202050"/>
<circle cx="52.15" cy="729.50" r="1.3" fill="#202050"/>
<circle cx="75.44" cy="720.50" r="1.3" fill="#202050"/>
<circle cx="98.73" cy="706.50" r="1.3" fill="#202050"/>
<circle cx="122.02" cy="710.50" r="1.3" fill="#202050"/>
<circle cx="145.31" cy="697.50" r="1.3" fill="#202050"/>
<circle cx="168.60" cy="679.70" r="1.3" fill="#202050"/>
<circle cx="191.90" cy="683.00" r="1.3" fill="#202050"/>
<circle cx="215.19" cy="642.70" r="1.3" fill="#202050"/>
<circle cx="238.48" cy="643.60" r="1.3" fill="#202050"/>
<circle cx="261.77" cy="647.00" r="1.3" fill="#202050"/>
<circle cx="285.06" cy="596.50" r="1.3" fill="#202050"/>
<circle cx="308.35" cy="554.10" r="1.3" fill="#202050"/>
<circle cx="52.15" cy="730.80" r="1.3" fill="#202050"/>
<circle cx="75.44" cy="722.00" r="1.3" fill="#202050"/>
<circle cx="98.73" cy="709.00" r="1.3" fill="#202050"/>
<circle cx="122.02" cy="712.20" r="1.3" fill="#202050"/>
<circle cx="145.31" cy="701.00" r="1.3" fill="#202050"/>
<circle cx="168.60" cy="687.00" r="1.3" fill="#202050"/>
<circle cx="191.90" cy="690.50" r="1.3" fill="#202050"/>
<circle cx="215.19" cy="659.80" r="1.3" fill="#202050"/>
<circle cx="238.48" cy="678.50" r="1.3" fill="#202050"/>
<circle cx="261.77" cy="670.00" r="1.3" fill="#202050"/>
<circle cx="285.06" cy="664.10" r="1.3" fill="#202050"/>
<circle cx="308.35" cy="639.60" r="1.3" fill="#202050"/>
<circle cx="52.15" cy="731.20" r="1.3" fill="#202050"/>
<circle cx="75.44" cy="722.50" r="1.3" fill="#202050"/>
<circle cx="98.73" cy="710.00" r="1.3" fill="#202050"/>
<circle cx="122.02" cy="712.80" r="1.3" fill="#202050"/>
<circle cx="145.31" cy="701.80" r="1.3" fill="#202050"/>
<circle cx="168.60" cy="688.00" r="1.3" fill="#202050"/>
<circle cx="191.90" cy="691.50" r="1.3" fill="#202050"/>
<circle cx="215.19" cy="661.00" r="1.3" fill="#202050"/>
<circle cx="238.48" cy="682.50" r="1.3" fill="#202050"/>
<circle cx="261.77" cy="674.50" r="1.3" fill="#202050"/>
<circle cx="285.06" cy="664.80" r="1.3" fill="#202050"/>
<circle cx="308.35" cy="644.60" r="1.3" fill="#202050"/>
<circle cx="52.15" cy="730.00" r="2.2" fill="#0000d0" stroke="#000060" stroke-width="0.6"/>
<circle cx="75.44" cy="721.00" r="2.2" fill="#0000d0" stroke="#000060" stroke-width="0.6"/>
<circle cx="98.73" cy="707.60" r="2.2" fill="#0000d0" stroke="#000060" stroke-width="0.6"/>
<circle cx="122.02" cy="711.20" r="2.2" fill="#0000d0" stroke="#000060" stroke-width="0.6"/>
<circle cx="145.31" cy="699.40" r="2.2" fill="#0000d0" stroke="#000060" stroke-width="0.6"/>
<circle cx="168.60" cy="685.00" r="2.2" fill="#0000d0" stroke="#000060" stroke-width="0.6"/>
<circle cx="191.90" cy="688.00" r="2.2" fill="#0000d0" stroke="#000060" stroke-width="0.6"/>
<circle cx="215.19" cy="656.60" r="2.2" fill="#0000d0" stroke="#000060" stroke-width="0.6"/>
<circle cx="238.48" cy="674.90" r="2.2" fill="#0000d0" stroke="#000060" stroke-width="0.6"/>
<circle cx="261.77" cy="665.80" r="2.2" fill="#0000d0" stroke="#000060" stroke-width="0.6"/>
<circle cx="285.06" cy="653.00" r="2.2" fill="#0000d0" stroke="#000060" stroke-width="0.6"/>
<circle cx="308.35" cy="633.60" r="2.2" fill="#0000d0" stroke="#000060" stroke-width="0.6"/>
<text x="-0.61 9.52 18.56 27.24 31.25 38.19 46.05 54.16 57.99 62.36 70.19 74.09 81.95 89.94 97.91 101.95 109.81 117.67 125.66 133.77 137.02 145.32 149.94 153.19 161.04" y="0" font-size="14.14" fill="#1a1a1a" stroke="#1a1a1a" stroke-width="0.22" transform="translate(90.20 549.60) scale(1.0630 1)">GDP/capita and population</text>
<rect x="53.1" y="562.0" width="24.9" height="6.0" fill="#b7b7ff"/>
<text x="-0.29 6.39 14.17 21.93 29.88 34.68 42.90 47.21 54.99" y="0" font-size="14.14" fill="#1a1a1a" stroke="#1a1a1a" stroke-width="0.22" transform="translate(90.20 570.10) scale(1.0763 1)">separated</text>
<rect x="53.1" y="582.0" width="24.9" height="6.0" fill="#ffdfb8"/>
<text x="-0.02 7.67 15.83 20.21 23.81 30.43 38.14 45.84 53.73 58.47 66.64 70.89 78.60" y="0" font-size="14.14" fill="#1a1a1a" stroke="#1a1a1a" stroke-width="0.22" transform="translate(90.20 589.70) scale(1.0859 1)">not separated</text>
<text x="-3.55" y="0" font-size="12.77" fill="#1a1a1a" stroke="#1a1a1a" stroke-width="0.22" font-weight="bold" transform="translate(289.50 546.90) scale(1.0105 1)">c</text>
<line x1="75.44" y1="752.00" x2="75.44" y2="749.50" stroke="#8a8a8a" stroke-width="1"/>
<line x1="75.44" y1="528.00" x2="75.44" y2="530.50" stroke="#8a8a8a" stroke-width="1"/>
<line x1="122.02" y1="752.00" x2="122.02" y2="749.50" stroke="#8a8a8a" stroke-width="1"/>
<line x1="122.02" y1="528.00" x2="122.02" y2="530.50" stroke="#8a8a8a" stroke-width="1"/>
<line x1="168.60" y1="752.00" x2="168.60" y2="749.50" stroke="#8a8a8a" stroke-width="1"/>
<line x1="168.60" y1="528.00" x2="168.60" y2="530.50" stroke="#8a8a8a" stroke-width="1"/>
<line x1="215.19" y1="752.00" x2="215.19" y2="749.50" stroke="#8a8a8a" stroke-width="1"/>
<line x1="215.19" y1="528.00" x2="215.19" y2="530.50" stroke="#8a8a8a" stroke-width="1"/>
<line x1="261.77" y1="752.00" x2="261.77" y2="749.50" stroke="#8a8a8a" stroke-width="1"/>
<line x1="261.77" y1="528.00" x2="261.77" y2="530.50" stroke="#8a8a8a" stroke-width="1"/>
<line x1="308.35" y1="752.00" x2="308.35" y2="749.50" stroke="#8a8a8a" stroke-width="1"/>
<line x1="308.35" y1="528.00" x2="308.35" y2="530.50" stroke="#8a8a8a" stroke-width="1"/>
<line x1="41.00" y1="752.60" x2="43.50" y2="752.60" stroke="#8a8a8a" stroke-width="1"/>
<line x1="319.50" y1="752.60" x2="317.00" y2="752.60" stroke="#8a8a8a" stroke-width="1"/>
<line x1="41.00" y1="692.36" x2="43.50" y2="692.36" stroke="#8a8a8a" stroke-width="1"/>
<line x1="319.50" y1="692.36" x2="317.00" y2="692.36" stroke="#8a8a8a" stroke-width="1"/>
<line x1="41.00" y1="632.12" x2="43.50" y2="632.12" stroke="#8a8a8a" stroke-width="1"/>
<line x1="319.50" y1="632.12" x2="317.00" y2="632.12" stroke="#8a8a8a" stroke-width="1"/>
<line x1="41.00" y1="571.88" x2="43.50" y2="571.88" stroke="#8a8a8a" stroke-width="1"/>
<line x1="319.50" y1="571.88" x2="317.00" y2="571.88" stroke="#8a8a8a" stroke-width="1"/>
<rect x="40.50" y="527.50" width="279.50" height="225.00" fill="none" stroke="#505050" stroke-width="1"/>
<text x="-22.99 -16.42 -13.14 -6.57" y="0" font-size="11.82" fill="#1a1a1a" stroke="#1a1a1a" stroke-width="0.22" transform="translate(39.20 756.20) scale(1.0845 1)">0.00</text>
<text x="-22.99 -16.42 -13.14 -6.57" y="0" font-size="11.82" fill="#1a1a1a" stroke="#1a1a1a" stroke-width="0.22" transform="translate(39.20 695.96) scale(1.0845 1)">0.02</text>
<text x="-22.99 -16.42 -13.14 -6.57" y="0" font-size="11.82" fill="#1a1a1a" stroke="#1a1a1a" stroke-width="0.22" transform="translate(39.20 635.72) scale(1.0845 1)">0.04</text>
<text x="-22.99 -16.42 -13.14 -6.57" y="0" font-size="11.82" fill="#1a1a1a" stroke="#1a1a1a" stroke-width="0.22" transform="translate(39.20 575.48) scale(1.0845 1)">0.06</text>
<text x="-13.14 -6.57 -0.00 6.57" y="0" font-size="11.82" fill="#1a1a1a" stroke="#1a1a1a" stroke-width="0.22" transform="translate(75.44 764.20) scale(1.0845 1)">2000</text>
<text x="-13.14 -6.57 -0.00 6.57" y="0" font-size="11.82" fill="#1a1a1a" stroke="#1a1a1a" stroke-width="0.22" transform="translate(122.02 764.20) scale(1.0845 1)">2020</text>
<text x="-13.14 -6.57 -0.00 6.57" y="0" font-size="11.82" fill="#1a1a1a" stroke="#1a1a1a" stroke-width="0.22" transform="translate(168.60 764.20) scale(1.0845 1)">2040</text>
<text x="-13.14 -6.57 -0.00 6.57" y="0" font-size="11.82" fill="#1a1a1a" stroke="#1a1a1a" stroke-width="0.22" transform="translate(215.19 764.20) scale(1.0845 1)">2060</text>
<text x="-13.14 -6.57 -0.00 6.57" y="0" font-size="11.82" fill="#1a1a1a" stroke="#1a1a1a" stroke-width="0.22" transform="translate(261.77 764.20) scale(1.0845 1)">2080</text>
<text x="-13.14 -6.57 -0.00 6.57" y="0" font-size="11.82" fill="#1a1a1a" stroke="#1a1a1a" stroke-width="0.22" transform="translate(308.35 764.20) scale(1.0845 1)">2100</text>
<text x="-37.21 -30.78 -24.42 -18.69 -12.66 -9.50 -0.67 7.21 14.57 18.46 22.22 33.21" y="0" font-size="11.82" fill="#1a1a1a" stroke="#1a1a1a" stroke-width="0.22" transform="translate(9.00 640.00) rotate(-90) scale(1.0182 1)">Loss/GDP [%]</text>
<text x="-14.29 -8.29 -1.84 4.85 8.76" y="0" font-size="11.82" fill="#1a1a1a" stroke="#1a1a1a" stroke-width="0.22" transform="translate(180.60 777.50) scale(1.0668 1)">years</text>
<text x="-147.32 -138.64 -130.74 -122.96 -115.19 -107.41 -100.54 -92.74 -84.83 -80.66 -76.48 -68.11 -63.68 -55.59 -50.76 -43.25 -39.14 -35.95 -28.49 -22.00 -15.31 -7.82 -1.02 2.92 13.26 17.35 21.45 24.94 36.93 45.04 49.84 57.47 64.60 72.40 80.30 84.28 92.38 97.18 104.82 108.03 115.69 123.13 127.70 130.89 138.66" y="0" font-size="14.14" fill="#1a1a1a" stroke="#1a1a1a" stroke-width="0.22" transform="translate(181.20 524.30) scale(1.0743 1)">Enhanced future losses w/ improved projection</text>
</svg>
</body></html>
